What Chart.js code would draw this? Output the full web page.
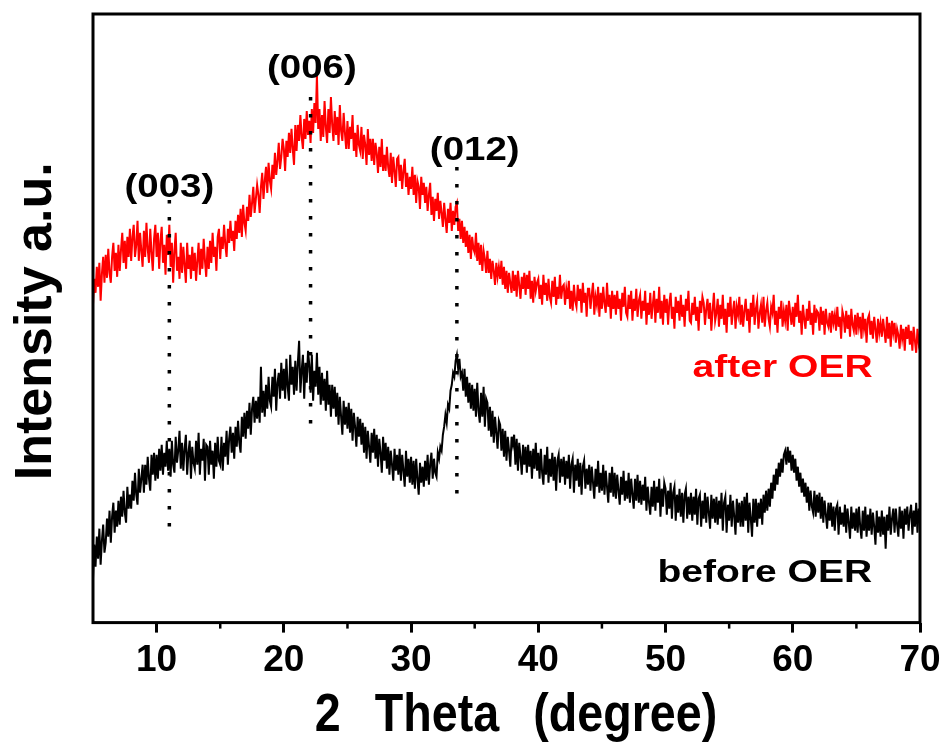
<!DOCTYPE html>
<html><head><meta charset="utf-8">
<script src="https://cdn.jsdelivr.net/npm/chart.js@4/dist/chart.umd.min.js"></script>
<style>html,body{margin:0;padding:0;background:#fff;overflow:hidden;}#wrap{width:947px;height:747px;}</style>
</head><body><div id="wrap"><canvas id="c" width="947" height="747"></canvas></div>
<script>
// 2θ grid of the scan (degrees)
const thetaStart = 5, thetaStep = 0.1;
// intensity (a.u.), after OER (red)
const afterOER = [
318,344,330,356,336,360,322,349,366,340, 368,345,374,350,340,366,380,352,370,346,
378,352,373,390,360,382,354,386,366,394, 362,386,398,366,378,402,362,390,372,356,
392,366,400,374,360,394,370,352,384,398, 366,390,354,382,396,360,378,348,388,368,
398,356,380,340,372,390,352,366,344,380, 350,376,358,340,380,354,368,344,376,352,
370,342,362,380,348,374,354,384,362,346, 376,354,382,360,390,366,376,352,386,394,
364,386,374,398,378,366,394,380,402,382, 392,372,402,384,408,390,414,386,418,400,
392,416,402,428,406,420,436,410,424,438, 428,410,436,450,424,442,456,430,460,442,
434,458,444,470,448,462,480,454,466,484, 474,452,482,466,490,470,494,474,458,498,
472,498,482,508,486,474,504,484,512,488, 502,480,514,490,520,500,548,494,514,482,
508,486,522,496,480,514,490,526,498,482, 512,488,506,478,518,492,482,510,490,474,
502,474,496,484,508,472,490,466,498,478, 472,496,464,488,478,458,494,468,484,462,
484,458,480,470,450,476,456,484,452,468, 452,476,456,446,470,440,466,452,436,464,
466,442,458,434,452,464,436,450,428,446, 434,456,428,448,420,442,436,414,446,428,
440,420,436,412,428,440,408,426,402,424, 412,430,404,422,410,396,420,404,390,414,
400,420,392,412,398,416,420,392,404,384, 402,380,396,376,392,370,388,364,386,374,
370,390,362,380,358,378,352,372,364,350, 372,350,364,344,362,352,338,360,346,356,
344,362,338,356,334,352,330,350,340,330, 352,332,348,326,352,338,324,346,334,350,
328,348,334,352,324,342,320,346,332,340, 344,324,338,318,348,328,340,322,344,326,
320,342,326,346,318,336,324,348,324,336, 338,318,334,324,342,314,332,312,338,322,
316,338,322,334,310,340,320,330,306,334, 334,314,328,340,308,326,318,336,306,330,
314,336,320,310,340,316,328,304,332,314, 328,308,332,314,324,302,330,316,336,310,
306,328,314,332,302,324,312,334,306,322, 328,304,322,312,332,298,320,308,330,304,
318,332,300,324,310,336,304,322,298,328, 310,324,298,320,330,304,316,294,326,310,
322,302,328,306,318,296,324,312,332,302, 300,320,308,326,302,316,292,322,310,326,
320,298,314,324,304,320,292,312,330,302, 310,324,296,318,304,328,298,314,290,320,
306,326,298,312,322,294,316,308,326,298, 318,296,312,324,302,314,290,320,306,328,
298,314,322,294,310,318,300,326,296,312, 320,304,296,316,310,328,298,312,290,316,
304,322,296,312,302,318,292,322,310,298, 316,296,320,306,328,300,312,288,318,304,
294,314,302,322,298,310,288,318,300,312, 310,292,316,298,312,288,314,300,296,310,
290,312,300,308,292,316,296,306,284,312, 306,290,312,294,308,286,314,298,292,308,
288,310,296,306,284,310,294,304,280,304, 308,288,302,284,306,294,280,304,290,300,
286,304,292,280,306,284,300,276,302,290, 300,280,294,288,274,298,284,294,272,296,
284,298,278,292,272,296,282,270,294,280, 288
];
// intensity (a.u.), before OER (black)
const beforeOER = [
44,78,56,86,64,94,58,82,98,70, 80,104,86,112,80,106,120,90,112,96,
122,98,126,106,132,110,100,136,114,128, 114,142,122,150,128,118,154,130,144,158,
130,158,138,166,144,132,168,148,170,142, 168,144,174,152,178,148,170,156,182,152,
174,146,182,158,150,186,160,172,192,154, 180,152,174,188,148,170,182,144,176,160,
154,182,158,190,148,174,162,184,142,178, 176,148,182,158,172,144,180,156,186,162,
158,186,152,180,166,192,158,184,196,170, 190,164,196,176,202,180,170,206,186,210,
184,212,194,220,188,214,226,200,222,204, 226,200,256,210,232,206,238,214,246,222,
216,246,226,254,212,240,250,224,260,232, 254,224,264,236,222,268,238,256,228,262,
232,260,282,230,252,268,224,260,240,272, 258,230,268,222,252,236,270,228,256,218,
250,222,244,212,252,218,238,206,238,214, 236,206,230,198,226,206,188,222,198,216,
194,220,190,214,182,210,196,176,206,186, 204,178,200,170,196,164,192,176,160,190,
170,194,164,188,156,184,170,150,186,162, 180,154,176,148,172,158,142,174,152,168,
148,174,142,168,152,136,172,146,164,140, 166,138,162,134,164,144,128,160,140,156,
136,162,142,168,138,158,170,144,164,150, 146,170,164,176,172,188,196,208,200,218,
214,232,238,250,246,262,268,254,264,246, 250,232,254,226,246,220,240,214,238,212,
234,206,240,212,200,230,206,236,196,224, 220,192,216,186,212,180,206,190,174,202,
198,172,194,166,192,162,186,172,156,186, 178,188,158,184,152,180,166,148,178,158,
176,150,178,156,172,144,174,154,180,152, 170,144,174,150,138,168,148,176,140,164,
146,170,142,166,132,162,168,140,164,146, 166,138,162,144,168,134,158,164,130,158,
142,164,136,160,128,156,162,134,154,138, 158,132,156,140,124,154,136,162,130,150,
132,158,128,152,136,120,150,130,156,126, 150,124,148,132,118,146,128,152,122,142,
124,150,120,144,128,114,144,122,148,120, 142,118,138,122,146,112,136,120,108,136,
116,142,112,136,120,144,106,134,116,140, 134,108,132,114,140,104,130,136,102,128,
110,134,106,130,100,128,134,104,126,108, 130,102,126,108,134,98,124,128,96,122,
104,130,100,126,110,94,128,104,124,100, 126,98,122,104,130,92,120,126,90,118,
102,128,96,122,106,88,124,100,120,96, 122,96,126,102,130,90,120,104,86,124,
100,124,96,120,104,124,98,128,110,132, 112,134,116,140,124,148,132,154,138,160,
146,164,150,168,172,158,176,160,172,152, 168,150,164,142,156,136,150,130,144,126,
140,120,136,112,132,116,110,132,106,128, 110,130,104,126,100,122,108,94,120,102,
120,96,116,92,114,118,88,116,98,110, 96,118,90,114,100,84,116,94,110,92,
114,90,116,96,84,112,92,116,86,108, 92,114,88,110,96,78,112,90,106,86,
112,88,106,74,108,92,116,88,104,114, 90,114,98,86,116,94,112,84,114,98,
116,92,108,118,88,112,96,120,90,114, 100
];
const seriesNames = ['after OER', 'before OER'];
const minorTicks = [15, 25, 35, 45, 55, 65];
// reflection markers
const peakNames = ['(003)', '(006)', '(012)'];
const peakPos = [11.0, 22.1, 33.6];
const peakLineTop = [423, 526, 456];
const peakLineBottom = [90, 193, 123];

const FONT = '"Liberation Sans", Arial, Helvetica, sans-serif';
const toXY = arr => arr.map((v, i) => ({x: +(thetaStart + i * thetaStep).toFixed(2), y: v}));

// annotation placement (data coordinates)
const peakLabelAt = [[11.0, 426], [22.2, 545], [35.0, 463]];
const seriesLabelAt = [[59.2, 246], [57.8, 41]];

function stretchText(ctx, text, cx, by, font, sx, color) {
  ctx.save();
  ctx.font = font; ctx.fillStyle = color;
  ctx.textAlign = 'center'; ctx.textBaseline = 'alphabetic';
  ctx.translate(cx, by); ctx.scale(sx, 1);
  ctx.fillText(text, 0, 0);
  ctx.restore();
}

const overlay = {
  id: 'overlay',
  afterDraw(chart) {
    const {ctx, chartArea: a, scales: {x, y}} = chart;
    ctx.save();
    ctx.strokeStyle = '#000';
    ctx.lineWidth = 3;
    ctx.strokeRect(a.left, a.top, a.right - a.left, a.bottom - a.top);
    ctx.lineWidth = 2.5;
    minorTicks.forEach(v => {
      const px = x.getPixelForValue(v);
      ctx.beginPath(); ctx.moveTo(px, a.bottom); ctx.lineTo(px, a.bottom + 6); ctx.stroke();
    });
    peakNames.forEach((t, i) => {
      stretchText(ctx, t, x.getPixelForValue(peakLabelAt[i][0]), y.getPixelForValue(peakLabelAt[i][1]),
        'bold 34px ' + FONT, 1.13, '#000');
    });
    stretchText(ctx, seriesNames[0], x.getPixelForValue(seriesLabelAt[0][0]), y.getPixelForValue(seriesLabelAt[0][1]),
      'bold 32px ' + FONT, 1.22, '#ff0000');
    stretchText(ctx, seriesNames[1], x.getPixelForValue(seriesLabelAt[1][0]), y.getPixelForValue(seriesLabelAt[1][1]),
      'bold 32px ' + FONT, 1.22, '#000');
    // y title
    ctx.save();
    ctx.font = 'bold 52px ' + FONT; ctx.fillStyle = '#000';
    ctx.textAlign = 'center'; ctx.textBaseline = 'alphabetic';
    ctx.translate(51, (a.top + a.bottom) / 2 + 3);
    ctx.rotate(-Math.PI / 2);
    ctx.fillText('Intensity a.u.', 0, 0);
    ctx.restore();
    // x title
    ctx.save();
    ctx.font = 'bold 53px ' + FONT; ctx.fillStyle = '#000';
    ctx.textAlign = 'center'; ctx.textBaseline = 'alphabetic';
    try { ctx.wordSpacing = '24px'; } catch (e) {}
    ctx.translate(516, 731); ctx.scale(0.88, 1);
    ctx.fillText('2 Theta (degree)', 0, 0);
    ctx.restore();
    ctx.restore();
  }
};

const dotted = peakPos.map((p, i) => ({
  type: 'line',
  data: [{x: p, y: peakLineTop[i]}, {x: p, y: peakLineBottom[i]}],
  borderColor: '#000', borderWidth: 3.5, borderDash: [3.5, 13.5], borderCapStyle: 'butt',
  pointRadius: 0, order: 0, fill: false
}));

new Chart(document.getElementById('c'), {
  type: 'line',
  data: {
    datasets: [
      ...dotted,
      {label: seriesNames[0], data: toXY(afterOER), borderColor: '#ff0000', borderWidth: 2,
       pointRadius: 0, tension: 0, order: 1, fill: false},
      {label: seriesNames[1], data: toXY(beforeOER), borderColor: '#000000', borderWidth: 2,
       pointRadius: 0, tension: 0, order: 2, fill: false}
    ]
  },
  options: {
    responsive: false, animation: false, devicePixelRatio: 1,
    layout: {padding: {left: 93, right: 27, top: 14, bottom: 58}},
    plugins: {legend: {display: false}, tooltip: {enabled: false}},
    scales: {
      x: {
        type: 'linear', min: 5, max: 70,
        ticks: {stepSize: 10, includeBounds: false, color: '#000', padding: 6,
                font: {family: FONT, size: 37, weight: 'bold'}, maxRotation: 0, autoSkip: false},
        grid: {drawOnChartArea: false, drawTicks: true, tickLength: 10, tickWidth: 3, tickColor: '#000'},
        border: {display: false}
      },
      y: {type: 'linear', min: 0, max: 609, display: false}
    }
  },
  plugins: [overlay]
});
</script></body></html>
